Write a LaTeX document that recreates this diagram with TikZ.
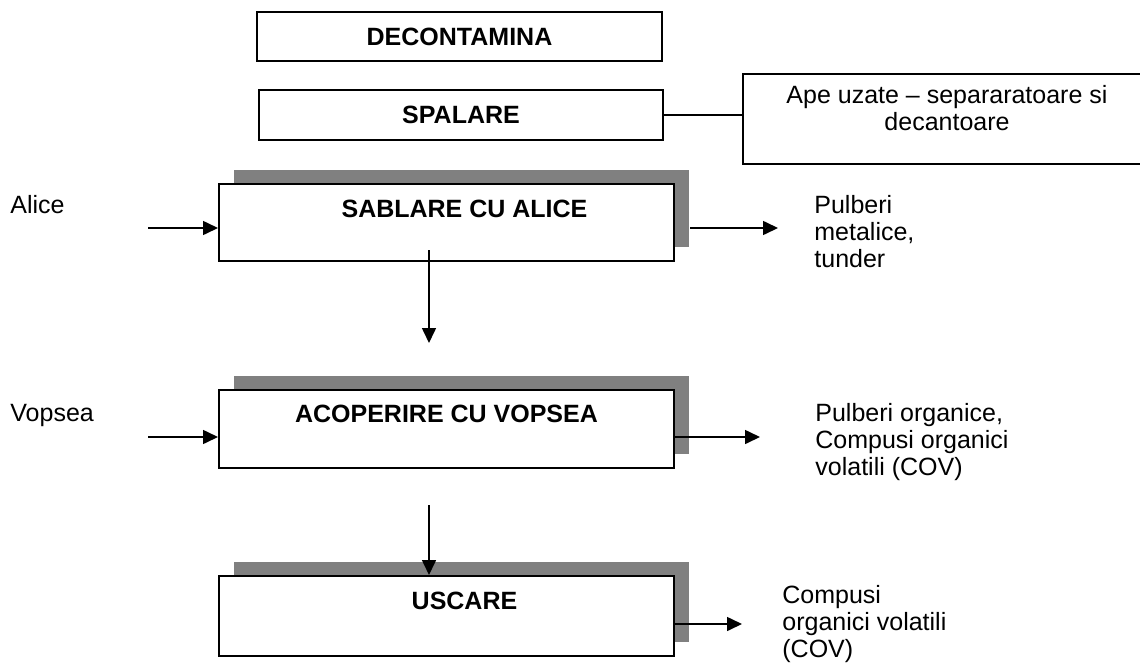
\documentclass[tikz,border=0pt]{standalone}
\usepackage{fontspec}
\setmainfont{Liberation Sans}
\usetikzlibrary{arrows.meta, shadows}

\definecolor{shadowgray}{HTML}{808080}

\tikzset{
  stagebox/.style={draw, line width=1pt, fill=white, inner sep=0pt},
  shadowbox/.style={stagebox, general shadow={fill=shadowgray, shadow xshift=7.5pt, shadow yshift=7pt}},
  stagetext/.style={font=\fontsize{12.5}{13.5}\selectfont\bfseries, inner sep=0pt},
  flowtext/.style={anchor=west, align=left, inner sep=0pt},
  flow/.style={-{Triangle[length=7.5pt,width=7pt]}, line width=0.8pt},
}

\begin{document}
\begin{tikzpicture}[x=0.5pt, y=-0.5pt, font=\fontsize{12.5}{13.5}\selectfont]
    \useasboundingbox (0,0) rectangle (1140,669);

    % upper stages
    \node [stagebox, minimum width=202.5pt, minimum height=24.5pt] (decont) at (459.5,36.5) {};
    \node [stagetext] (decontxt) at (decont) {DECONTAMINA};
    \node [stagebox, minimum width=202pt, minimum height=25pt] (spalare) at (461,115) {};
    \node [stagetext] (spalaretxt) at (spalare) {SPALARE};
    \node [stagebox, minimum width=204pt, minimum height=45pt] (apebox) at (947,119) {};
    \node [align=center, inner sep=0pt] (apetxt) at (947,108) {Ape uzate -- separaratoare si\\decantoare};
    \draw [line width=0.8pt] (spalare.east) -- (spalare.east -| apebox.west);

    % main stages with shadow
    \node [shadowbox, minimum width=227.5pt, minimum height=38.5pt] (sablare) at (446.5,222.5) {};
    \node [stagetext] (sablaretxt) at ([xshift=9pt,yshift=-13pt]sablare.north) {SABLARE CU ALICE};
    \node [shadowbox, minimum width=227.5pt, minimum height=39pt] (acoperire) at (446.5,429) {};
    \node [stagetext] (acoperiretxt) at ([yshift=-12.5pt]acoperire.north) {ACOPERIRE CU VOPSEA};
    \node [shadowbox, minimum width=227.5pt, minimum height=40pt] (uscare) at (446.5,616) {};
    \node [stagetext] (uscaretxt) at ([xshift=9pt,yshift=-13pt]uscare.north) {USCARE};

    % inputs
    \node [flowtext] (alice) at (10,205) {Alice};
    \node [flowtext] (vopsea) at (10,415) {Vopsea};
    \coordinate (alicein) at (148,228);
    \coordinate (vopseain) at (148,437);
    \draw [flow] (alicein) -- (alicein -| sablare.west);
    \draw [flow] (vopseain) -- (vopseain -| acoperire.west);

    % outputs
    \node [flowtext] (pulbmet) at (814,232) {Pulberi\\metalice,\\tunder};
    \node [flowtext] (pulborg) at (815,442) {Pulberi organice,\\Compusi organici\\volatili (COV)};
    \node [flowtext] (compusi) at (782,624) {Compusi\\organici volatili\\(COV)};
    \coordinate (sablareout) at (778,228);
    \coordinate (acopout) at (760,437);
    \coordinate (uscareout) at (742,624);
    \draw [flow] ([xshift=7.5pt]sablare.east |- sablareout) -- (sablareout);
    \draw [flow] (acoperire.east |- acopout) -- (acopout);
    \draw [flow] (uscare.east |- uscareout) -- (uscareout);

    % flow between stages
    \coordinate (drop1s) at (429,250);
    \coordinate (drop1e) at (429,343);
    \coordinate (drop2s) at (429,505);
    \draw [flow] (drop1s) -- (drop1e);
    \draw [flow] (drop2s) -- (drop2s |- uscare.north);
\end{tikzpicture}
\end{document}
